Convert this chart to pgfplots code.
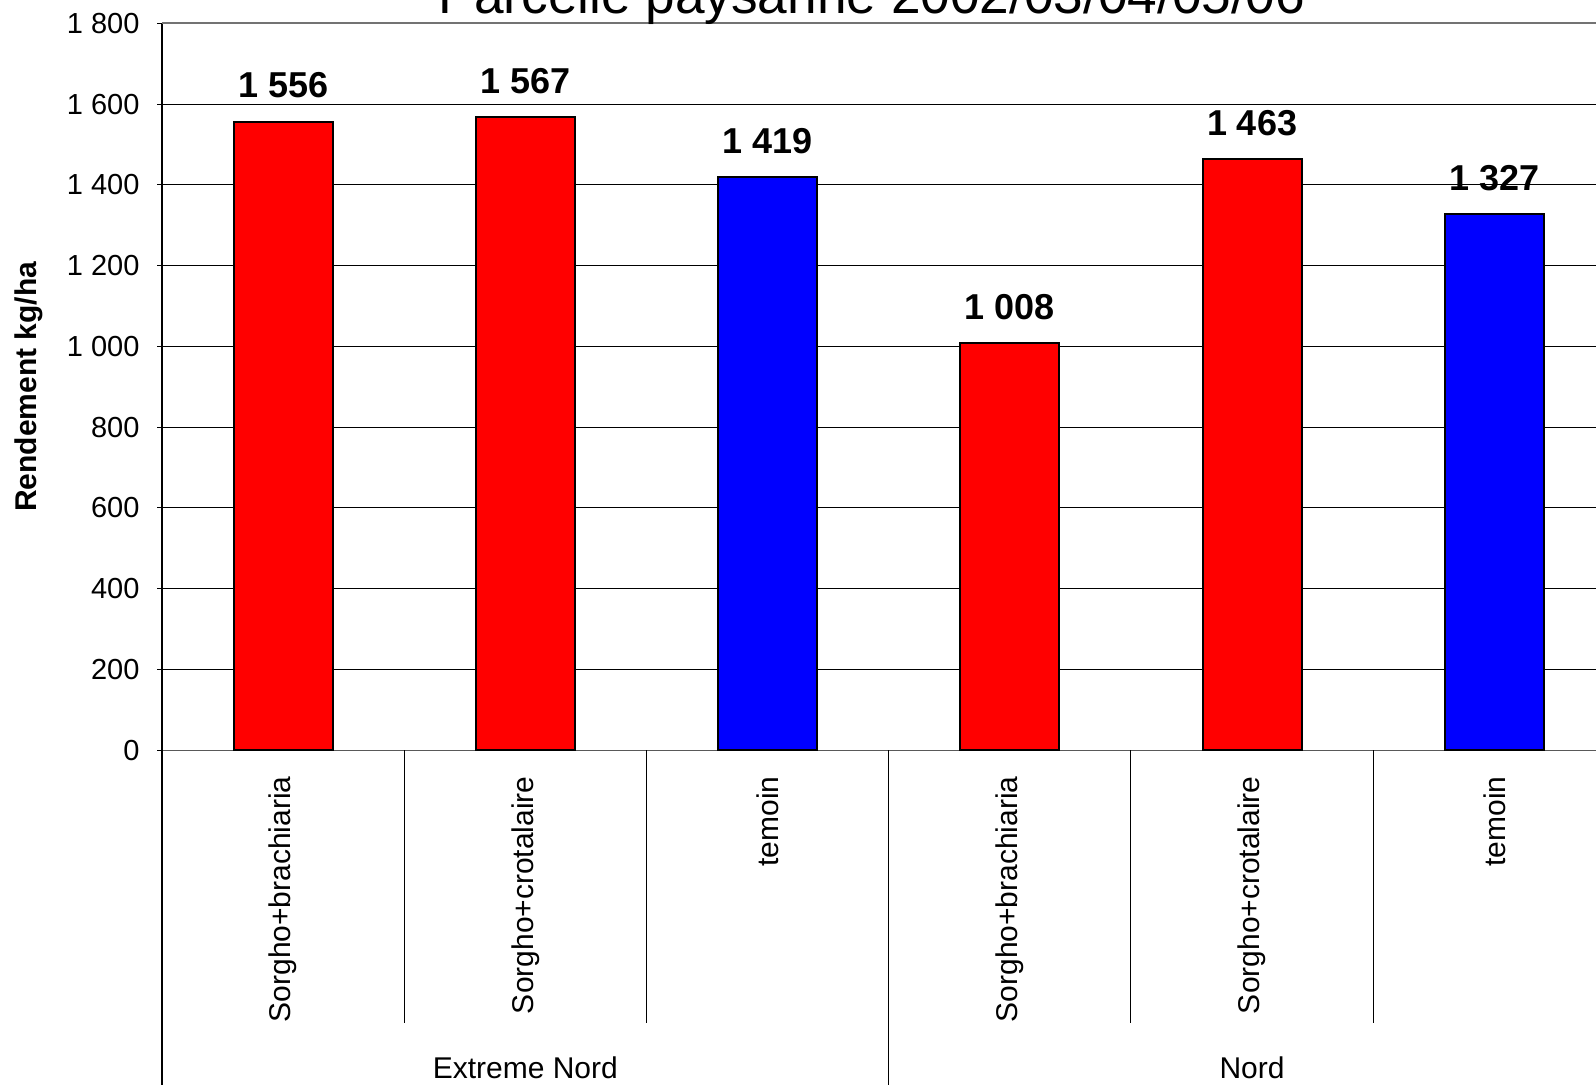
\documentclass[border=0pt]{standalone}
\usepackage{fontspec}
\setmainfont{Liberation Sans}
\usepackage{pgfplots}
\pgfplotsset{compat=1.18}

\definecolor{barred}{RGB}{255,0,0}
\definecolor{barblue}{RGB}{0,0,255}

\begin{document}
\begin{tikzpicture}
\begin{axis}[
    name=ax,
    scale only axis,
    width=717pt, height=363.5pt,
    xmin=-0.5, xmax=5.42,
    ymin=0, ymax=1800,
    ytick={0,200,...,1800},
    xtick={0,...,5},
    xticklabels={Sorgho+brachiaria,Sorgho+crotalaire,temoin,Sorgho+brachiaria,Sorgho+crotalaire,temoin},
    x tick label style={rotate=90, anchor=east, xshift=-5pt, font=\fontsize{15}{18}\selectfont},
    xtick style={draw=none},
    y tick label style={xshift=-5.5pt, font=\fontsize{14.5}{17}\selectfont},
    ytick style={black, line width=0.5pt},
    tick align=outside,
    major tick length=4.5pt,
    ymajorgrids,
    grid style={black, line width=0.5pt},
    axis x line=bottom, axis y line=left,
    axis line style={-, line width=0.6pt},
    x axis line style={draw=black!65},
    /pgf/number format/assume math mode=true,
    /pgf/number format/1000 sep={\ },
    ylabel={Rendement kg/ha},
    every axis y label/.style={at={(rel axis cs:0,0.5)}, rotate=90, anchor=center, yshift=66.7pt, font=\bfseries\fontsize{15}{17}\selectfont},
    ybar, bar width=49.5pt, bar shift=0pt,
    nodes near coords,
    every node near coord/.append style={anchor=base, yshift=12pt, font=\bfseries\fontsize{18}{20}\selectfont, black},
    clip=false,
]
\addplot[fill=barred, draw=black, line width=1pt] coordinates {(0,1556) (1,1567) (3,1008) (4,1463)};
\addplot[fill=barblue, draw=black, line width=1pt] coordinates {(2,1419) (5,1327)};

% top border line in grey
\draw[black!55, line width=0.8pt] (axis cs:-0.5,1800) -- (axis cs:5.42,1800);

% category separators below the axis
\pgfplotsinvokeforeach{0.5,1.5,3.5,4.5}{
  \draw[black, line width=0.5pt] (axis cs:#1,0) -- ([yshift=-136.5pt]axis cs:#1,0);
}
\draw[black, line width=0.5pt] (axis cs:2.5,0) -- ([yshift=-170pt]axis cs:2.5,0);
\draw[black, line width=0.6pt] (axis cs:-0.5,0) -- ([yshift=-170pt]axis cs:-0.5,0);

\node[anchor=base, font=\fontsize{15}{18}\selectfont] at (axis cs:1,0) [yshift=-164pt] {Extreme Nord};
\node[anchor=base, font=\fontsize{15}{18}\selectfont] at (axis cs:4,0) [yshift=-164pt] {Nord};

\node[anchor=base, font=\fontsize{26.6}{30}\selectfont] at (axis cs:2.431,1800) [yshift=5pt] {Parcelle paysanne 2002/03/04/05/06};
\end{axis}
\pgfresetboundingbox
\path[use as bounding box] ([shift={(-81pt,-167pt)}]ax.south west) rectangle ([shift={(0pt,11.65pt)}]ax.north east);
\end{tikzpicture}
\end{document}
